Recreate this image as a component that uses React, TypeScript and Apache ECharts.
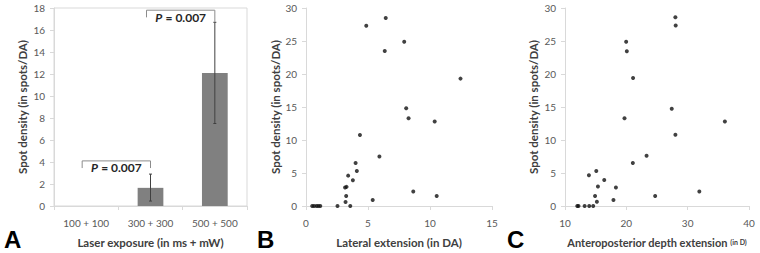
import React, { useEffect, useRef } from "react";
import * as echarts from "echarts";

const exposureCats = ["100 + 100", "300 + 300", "500 + 500"];
const densityMean = [0, 1.65, 12.1];
const densityLow = [0, 0.45, 7.5];
const densityHigh = [0, 2.9, 16.7];

// brackets: [fromCat, toCat, level, dropLeft, dropRight]
const bracketFrom = [0, 1];
const bracketTo = [1, 2];
const bracketLevel = [4.1, 17.8];
const bracketDropL = [3.45, 17.15];
const bracketDropR = [3.45, 16.7];
const bracketP = ["0.007", "0.007"];

const lateralX = [4.86, 6.43, 7.92, 6.35, 12.46, 8.08, 8.27, 10.38, 4.35, 5.92, 4.0, 4.1, 3.4, 3.78, 3.15, 3.27, 3.24, 3.19, 3.57, 2.54, 5.38, 8.65, 10.54, 0.5, 0.65, 0.85, 1.0, 1.15];
const lateralY = [27.3, 28.5, 24.9, 23.5, 19.3, 14.8, 13.3, 12.8, 10.75, 7.5, 6.5, 5.3, 4.6, 3.9, 2.8, 2.9, 1.5, 0.6, 0, 0, 0.9, 2.2, 1.5, 0, 0, 0, 0, 0];

const depthX = [28.0, 28.05, 19.97, 20.08, 21.1, 27.4, 19.7, 36.07, 28.0, 23.3, 21.06, 15.1, 13.9, 16.4, 15.37, 18.3, 14.9, 15.2, 17.9, 24.7, 31.9, 12.0, 12.2, 13.2, 13.95, 14.6];
const depthY = [28.6, 27.35, 24.9, 23.45, 19.4, 14.75, 13.3, 12.8, 10.8, 7.6, 6.5, 5.3, 4.65, 3.95, 2.95, 2.8, 1.5, 0.65, 0.9, 1.5, 2.2, 0, 0, 0, 0, 0];

const FONT = "Lato, 'Open Sans', sans-serif";
const AXIS_COLOR = "#d9d9d9";
const LABEL_COLOR = "#595959";
const TITLE_COLOR = "#404040";

export default function App() {
  const ref = useRef<HTMLDivElement>(null);
  useEffect(() => {
    if (!ref.current) return;
    const chart = echarts.init(ref.current, null, { renderer: "svg" });
    const axisLine = { show: true, lineStyle: { color: AXIS_COLOR, width: 1 } };
    const axisTick = { show: true, length: 4, lineStyle: { color: AXIS_COLOR } };
    const axisLabel = { color: LABEL_COLOR, fontSize: 10, fontFamily: FONT };
    const nameStyle = { color: TITLE_COLOR, fontSize: 11.5, fontWeight: "bold" as const, fontFamily: FONT };
    const yName = "Spot density (in spots/DA)";

    const errData = densityMean.map((m, i) => [i, densityLow[i], densityHigh[i]]);
    const bracketData = bracketFrom.map((f, i) => [f, bracketTo[i], bracketLevel[i], bracketDropL[i], bracketDropR[i], i]);

    chart.setOption({
      animation: false,
      backgroundColor: "#fff",
      grid: [
        { left: 54, top: 8, width: 193, height: 199, show: true, borderColor: AXIS_COLOR, borderWidth: 1, containLabel: false },
        { left: 306, top: 8, width: 186, height: 199, containLabel: false },
        { left: 565, top: 8, width: 184, height: 199, containLabel: false },
      ],
      xAxis: [
        {
          gridIndex: 0, type: "category", data: exposureCats, boundaryGap: true,
          axisLine, axisTick: { ...axisTick, alignWithLabel: false }, axisLabel: { ...axisLabel, margin: 12 },
          name: "Laser exposure (in ms + mW)", nameLocation: "middle", nameGap: 30, nameTextStyle: nameStyle,
        },
        {
          gridIndex: 1, type: "value", min: 0, max: 15, interval: 5, splitLine: { show: false },
          axisLine, axisTick, axisLabel: { ...axisLabel, margin: 12 },
          name: "Lateral extension (in DA)", nameLocation: "middle", nameGap: 30, nameTextStyle: nameStyle,
        },
        {
          gridIndex: 2, type: "value", min: 10, max: 40, interval: 10, splitLine: { show: false },
          axisLine, axisTick, axisLabel: { ...axisLabel, margin: 12 },
          name: "{m|Anteroposterior depth extension} {s|(in D)}", nameLocation: "middle", nameGap: 30,
          nameTextStyle: {
            ...nameStyle,
            rich: {
              m: { color: TITLE_COLOR, fontSize: 11, fontWeight: "bold", fontFamily: FONT },
              s: { color: TITLE_COLOR, fontSize: 7, fontWeight: "bold", fontFamily: FONT },
            },
          },
        },
      ],
      yAxis: [
        {
          gridIndex: 0, type: "value", min: 0, max: 18, interval: 2, splitLine: { show: false },
          axisLine, axisTick, axisLabel: { ...axisLabel, margin: 9 },
          name: yName, nameLocation: "middle", nameGap: 26, nameTextStyle: nameStyle,
        },
        {
          gridIndex: 1, type: "value", min: 0, max: 30, interval: 5, splitLine: { show: false },
          axisLine, axisTick, axisLabel: { ...axisLabel, margin: 9 },
          name: yName, nameLocation: "middle", nameGap: 22, nameTextStyle: nameStyle,
        },
        {
          gridIndex: 2, type: "value", min: 0, max: 30, interval: 5, splitLine: { show: false },
          axisLine, axisTick, axisLabel: { ...axisLabel, margin: 9 },
          name: yName, nameLocation: "middle", nameGap: 26, nameTextStyle: nameStyle,
        },
      ],
      series: [
        {
          type: "bar", xAxisIndex: 0, yAxisIndex: 0, data: densityMean, barWidth: "40%",
          itemStyle: { color: "#808080", borderWidth: 0 },
        },
        {
          type: "custom", xAxisIndex: 0, yAxisIndex: 0, data: errData, encode: { x: 0, y: [1, 2] }, z: 5,
          renderItem: (params: any, api: any) => {
            const lo = api.value(1), hi = api.value(2);
            if (hi - lo <= 0) return null;
            const a = api.coord([api.value(0), lo]);
            const b = api.coord([api.value(0), hi]);
            return {
              type: "group",
              children: [
                { type: "line", shape: { x1: a[0], y1: a[1], x2: b[0], y2: b[1] }, style: { stroke: "#404040", lineWidth: 1 } },
                { type: "line", shape: { x1: a[0] - 1.5, y1: a[1], x2: a[0] + 1.5, y2: a[1] }, style: { stroke: "#404040", lineWidth: 1 } },
                { type: "line", shape: { x1: b[0] - 1.5, y1: b[1], x2: b[0] + 1.5, y2: b[1] }, style: { stroke: "#404040", lineWidth: 1 } },
              ],
            };
          },
        },
        {
          type: "custom", xAxisIndex: 0, yAxisIndex: 0, data: bracketData, encode: { x: [0, 1], y: [2, 3, 4] }, z: 6,
          renderItem: (params: any, api: any) => {
            const f = api.value(0), t = api.value(1);
            const lvl = api.value(2), dl = api.value(3), dr = api.value(4);
            const idx = api.value(5);
            const pL = api.coord([f, lvl]);
            const pR = api.coord([t, lvl]);
            const xl = pL[0] - 4, xr = pR[0];
            const yl = api.coord([f, dl])[1];
            const yr = api.coord([t, dr])[1];
            return {
              type: "group",
              children: [
                {
                  type: "polyline",
                  shape: { points: [[xl, yl], [xl, pL[1]], [xr, pR[1]], [xr, yr]] },
                  style: { stroke: "#8c8c8c", lineWidth: 1, fill: "none" },
                },
                {
                  type: "text",
                  style: {
                    x: (xl + xr) / 2, y: pL[1] + 1, align: "center", verticalAlign: "top",
                    text: "{i|P} {n|= " + bracketP[idx] + "}",
                    rich: {
                      i: { fontStyle: "italic", fontWeight: "bold", fontSize: 12, fontFamily: FONT, fill: "#262626" },
                      n: { fontWeight: "bold", fontSize: 12, fontFamily: FONT, fill: "#262626" },
                    },
                  },
                },
              ],
            };
          },
        },
        {
          type: "scatter", xAxisIndex: 1, yAxisIndex: 1, symbolSize: 4,
          data: lateralX.map((x, i) => [x, lateralY[i]]), itemStyle: { color: "#111" },
        },
        {
          type: "scatter", xAxisIndex: 2, yAxisIndex: 2, symbolSize: 4,
          data: depthX.map((x, i) => [x, depthY[i]]), itemStyle: { color: "#111" },
        },
      ],
      graphic: [
        { type: "text", left: 4, top: 227, style: { text: "A", font: "bold 24px 'Liberation Sans', Arial, sans-serif", fill: "#000" } },
        { type: "text", left: 257, top: 227, style: { text: "B", font: "bold 24px 'Liberation Sans', Arial, sans-serif", fill: "#000" } },
        { type: "text", left: 507, top: 227, style: { text: "C", font: "bold 24px 'Liberation Sans', Arial, sans-serif", fill: "#000" } },
      ],
    });
    return () => chart.dispose();
  }, []);
  return <div ref={ref} style={{ position: "absolute", left: 0, top: 0, width: 760, height: 253, background: "#fff" }} />;
}
